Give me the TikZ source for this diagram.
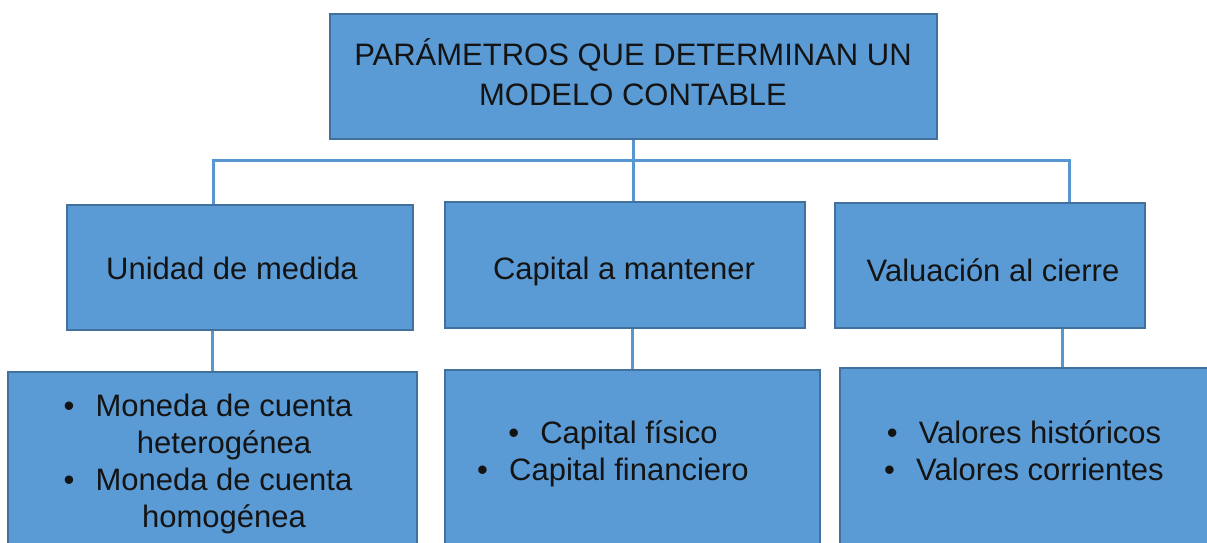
\documentclass[tikz,border=0pt]{standalone}
\usepackage{fontspec}
\setmainfont{Liberation Sans}
\usetikzlibrary{backgrounds,positioning}
\definecolor{boxfill}{HTML}{5B9BD5}
\definecolor{boxedge}{HTML}{41719C}
\definecolor{linkline}{HTML}{5896D0}
\tikzset{
  levelbox/.style={draw=boxedge, line width=2pt, fill=boxfill, inner sep=0pt},
  boxtext/.style={font=\fontsize{31}{40}\selectfont, align=center, text=black!92, inner sep=0pt},
  itemtext/.style={font=\fontsize{31}{37}\selectfont, align=center, text=black!92, inner sep=0pt},
  link/.style={draw=linkline, line width=3pt}
}
\newcommand{\itembullet}{\makebox[32pt][l]{\textbullet}}

\begin{document}
\begin{tikzpicture}[x=1pt, y=-1pt]
  \useasboundingbox (0,0) rectangle (1207,542);
  \clip (0,0) rectangle (1207,542);
  % top level
  \node[levelbox, minimum width=607pt, minimum height=125pt] (param) at (633.5,76.5) {};
  \node[boxtext] (paramtxt) at (633,72) {PARÁMETROS QUE DETERMINAN UN\\MODELO CONTABLE};
  % second level
  \node[levelbox, minimum width=346pt, minimum height=125pt] (unidad) at (240,267.5) {};
  \node[levelbox, minimum width=360pt, minimum height=126pt] (capital) at (625,265) {};
  \node[levelbox, minimum width=310pt, minimum height=125pt] (valuacion) at (990,265.5) {};
  \node[boxtext, anchor=base] (unidadtxt) at (232,279) {Unidad de medida};
  \node[boxtext, anchor=base] (capitaltxt) at (624,279) {Capital a mantener};
  \node[boxtext, anchor=base] (valuaciontxt) at (993,281) {Valuación al cierre};
  % third level
  \node[levelbox, minimum width=409pt, minimum height=188pt] (moneda) at (212.5,466) {};
  \node[levelbox, minimum width=375pt, minimum height=190pt] (fisico) at (632.5,465) {};
  \node[levelbox, minimum width=375pt, minimum height=192pt] (valores) at (1027.5,464) {};
  \node[itemtext] (monedatxt) at (224,464) {\llap{\itembullet}Moneda de cuenta\\heterogénea\\\llap{\itembullet}Moneda de cuenta\\homogénea};
  \node[itemtext] (fisicotxt) at (613,454) {\itembullet Capital físico\\\itembullet Capital financiero};
  \node[itemtext] (valorestxt) at (1024,451) {\itembullet Valores históricos\\\itembullet Valores corrientes};
  % connectors
  \coordinate (busL) at (213,160);
  \coordinate (busR) at (1069,160);
  \coordinate (linkV) at (1062,0);
  \begin{scope}[on background layer]
    \fill[white] (0,0) rectangle (1207,542);
    \draw[link] (param.south) -- (param.south |- capital.north);
    \draw[link] (busL |- unidad.north) -- (busL) -- (busR) -- (busR |- valuacion.north);
    \draw[link] (moneda.north) -- (moneda.north |- unidad.south);
    \draw[link] (fisico.north) -- (fisico.north |- capital.south);
    \draw[link] (linkV |- valores.north) -- (linkV |- valuacion.south);
  \end{scope}
\end{tikzpicture}
\end{document}
